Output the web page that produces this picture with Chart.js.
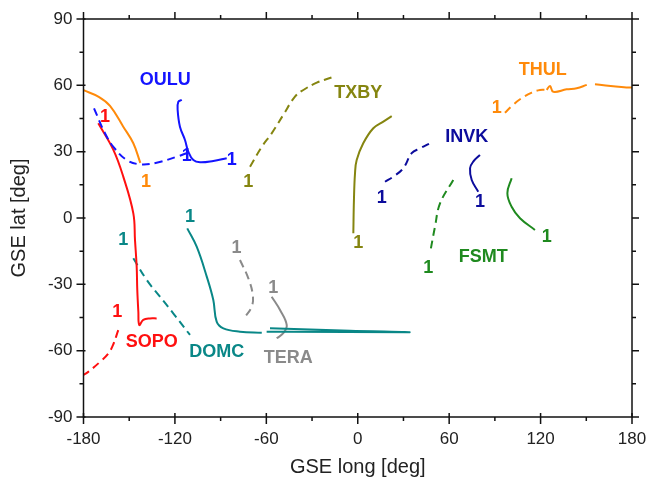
<!DOCTYPE html>
<html>
<head>
<meta charset="utf-8">
<script src="https://cdn.jsdelivr.net/npm/chart.js@4"></script>
<style>
  html, body { margin: 0; padding: 0; background: #fff; }
</style>
</head>
<body>
<canvas id="chart" width="646" height="479"></canvas>
<script>
// Station tracks in GSE coordinates (lon, lat), solid and dashed parts
const thulDashLon = [96.6, 101.2, 106.5, 114.2, 119.6, 124.0];
const thulDashLat = [47.6, 50.7, 53.7, 56.7, 57.9, 57.9];
const thulSolidLon = [124.0, 126.2, 128.3, 137.1, 143.7, 150.3, null, 155.7, 174.8, 180, null, -180, -170.0, -162.6, -153.9, -147.3, -142.7];
const thulSolidLat = [57.9, 59.7, 57.1, 58.2, 58.7, 60.2, null, 60.5, 59.1, 59.0, null, 57.8, 54.8, 50.7, 41.3, 33.8, 24.9];

const ouluDashLon = [-173.1, -165.9, -160.4, -151.6, -142.9, -132.0, -118.8, -112.3];
const ouluDashLat = [49.6, 38.3, 32.2, 26.2, 24.3, 25.0, 27.7, 29.3];
const ouluSolidLon = [-115.5, -117.8, -118.2, -116.7, -113.4, -111.2, -107.9, -103.5, -94.8, -86.0];
const ouluSolidLat = [53.4, 52.5, 48.8, 41.3, 35.3, 30.0, 26.2, 25.2, 25.8, 27.0];

const sopoSolidLon = [-170.3, -160.4, -153.9, -147.3, -146.2, -145.1, -144.7, -144.0, -143.4, -140.8, -136.4, -132.0];
const sopoSolidLat = [42.8, 30.8, 18.7, 2.1, -10.0, -22.0, -32.6, -42.4, -48.4, -46.1, -45.4, -45.4];
const sopoDashLon = [-157.2, -160.6, -163.9, -169.2, -176.9, -180];
const sopoDashLat = [-50.7, -57.4, -61.5, -65.1, -69.6, -71.0];

const domcSolidLon = [-111.9, -105.7, -99.1, -94.8, -92.6, -88.2, -77.3, -63.0, null, -59.8, 33.2, -5.1, -57.6];
const domcSolidLat = [-4.7, -13.0, -26.5, -37.1, -46.9, -49.9, -51.4, -51.9, null, -51.4, -51.7, -51.0, -49.9];
const domcDashLon = [-147.3, -138.5, -129.8, -121.1, -110.1];
const domcDashLat = [-18.2, -28.0, -35.6, -43.1, -52.9];

const teraDashLon = [-77.3, -71.8, -68.9, -69.6, -75.1];
const teraDashLat = [-19.0, -27.3, -34.8, -40.1, -45.8];
const teraSolidLon = [-56.5, -51.0, -46.6, -48.9, -53.2];
const teraSolidLat = [-35.6, -41.6, -48.4, -52.1, -54.4];

const txbyDashLon = [-70.7, -63.0, -56.5, -48.9, -41.2, -35.7, -26.9, -17.1];
const txbyDashLat = [23.2, 32.2, 38.3, 46.6, 54.9, 57.9, 61.2, 63.6];
const txbySolidLon = [-2.9, -2.5, -1.8, -0.7, 3.6, 10.2, 16.8, 22.3];
const txbySolidLat = [-6.9, 8.1, 20.2, 26.2, 33.8, 40.6, 43.6, 46.1];

const invkDashLon = [17.9, 23.3, 29.9, 35.4, 40.9, 47.4];
const invkDashLat = [16.4, 18.7, 22.5, 29.3, 31.5, 33.8];
const invkSolidLon = [80.2, 75.8, 73.7, 74.8, 79.1];
const invkSolidLat = [28.5, 25.5, 22.5, 17.2, 11.9];

const fsmtDashLon = [62.7, 54.0, 50.7, 47.4];
const fsmtDashLat = [17.2, 6.6, -3.9, -16.0];
const fsmtSolidLon = [101.0, 98.2, 101.0, 106.5, 116.3];
const fsmtSolidLat = [18.0, 11.2, 5.1, -0.1, -5.4];

// Station name labels
const stationNames = ["OULU", "THUL", "TXBY", "INVK", "FSMT", "SOPO", "DOMC", "TERA"];
const stationLabelLon = [-126.3, 121.4, 0.4, 71.5, 82.4, -135.2, -92.6, -45.6];
const stationLabelLat = [62.4, 66.9, 56.4, 36.8, -17.5, -55.9, -60.5, -63.5];

// "1" markers
const markStation = ["OULU", "OULU", "SOPO", "SOPO", "THUL", "THUL", "TXBY", "TXBY",
  "DOMC", "DOMC", "TERA", "TERA", "INVK", "INVK", "FSMT", "FSMT"];
const markLon = [-112.3, -82.7, -165.9, -157.8, -139.0, 91.2, -71.8, 0.4,
  -153.9, -110.1, -79.5, -55.4, 15.7, 80.2, 46.3, 124.0];
const markLat = [28.0, 26.2, 45.8, -42.4, 16.4, 49.6, 16.4, -11.4,
  -10.0, 0.5, -13.7, -31.8, 8.9, 7.4, -22.8, -8.5];

const colors = {
  OULU: "#1414ff",
  THUL: "#ff8a0a",
  SOPO: "#ff1010",
  DOMC: "#098787",
  TERA: "#8a8a8a",
  TXBY: "#858510",
  INVK: "#0c0c9c",
  FSMT: "#1f8a1f",
};

function toPoints(lons, lats) {
  return lons.map((x, i) => ({ x: x, y: lats[i] }));
}

function trackSet(name, lons, lats, dashed) {
  return {
    label: name + (dashed ? " dashed" : " solid"),
    data: toPoints(lons, lats),
    borderColor: colors[name],
    borderWidth: 2,
    borderDash: dashed ? [8, 5] : [],
    showLine: true,
    pointRadius: 0,
    tension: 0.4,
    spanGaps: false,
  };
}

const datasets = [
  trackSet("THUL", thulDashLon, thulDashLat, true),
  trackSet("THUL", thulSolidLon, thulSolidLat, false),
  trackSet("OULU", ouluDashLon, ouluDashLat, true),
  trackSet("OULU", ouluSolidLon, ouluSolidLat, false),
  trackSet("SOPO", sopoSolidLon, sopoSolidLat, false),
  trackSet("SOPO", sopoDashLon, sopoDashLat, true),
  trackSet("DOMC", domcSolidLon, domcSolidLat, false),
  trackSet("DOMC", domcDashLon, domcDashLat, true),
  trackSet("TERA", teraDashLon, teraDashLat, true),
  trackSet("TERA", teraSolidLon, teraSolidLat, false),
  trackSet("TXBY", txbyDashLon, txbyDashLat, true),
  trackSet("TXBY", txbySolidLon, txbySolidLat, false),
  trackSet("INVK", invkDashLon, invkDashLat, true),
  trackSet("INVK", invkSolidLon, invkSolidLat, false),
  trackSet("FSMT", fsmtDashLon, fsmtDashLat, true),
  trackSet("FSMT", fsmtSolidLon, fsmtSolidLat, false),
];

// Frame with ticks on all four sides
const framePlugin = {
  id: "frame",
  afterDraw(chart) {
    const ctx = chart.ctx;
    const a = chart.chartArea;
    const xs = chart.scales.x;
    const ys = chart.scales.y;
    ctx.save();
    ctx.strokeStyle = "#111";
    ctx.lineWidth = 1.5;
    ctx.strokeRect(a.left, a.top, a.right - a.left, a.bottom - a.top);
    ctx.beginPath();
    for (let v = -180; v <= 180; v += 30) {
      const px = xs.getPixelForValue(v);
      const major = v % 60 === 0;
      ctx.moveTo(px, a.bottom - (major ? 4 : 0));
      ctx.lineTo(px, a.bottom + (major ? 7 : 4));
      ctx.moveTo(px, a.top);
      ctx.lineTo(px, a.top - (major ? 7 : 4));
    }
    for (let v = -90; v <= 90; v += 15) {
      const py = ys.getPixelForValue(v);
      const major = v % 30 === 0;
      ctx.moveTo(a.left + (major ? 2 : 0), py);
      ctx.lineTo(a.left - (major ? 7 : 4), py);
      ctx.moveTo(a.right, py);
      ctx.lineTo(a.right + (major ? 7 : 4), py);
    }
    ctx.stroke();
    ctx.restore();
  },
};

// Station names and "1" markers
const labelPlugin = {
  id: "labels",
  afterDatasetsDraw(chart) {
    const ctx = chart.ctx;
    const xs = chart.scales.x;
    const ys = chart.scales.y;
    ctx.save();
    ctx.textAlign = "center";
    ctx.textBaseline = "middle";
    ctx.font = "bold 18px 'Liberation Sans', Arial, sans-serif";
    stationNames.forEach((name, i) => {
      ctx.fillStyle = colors[name];
      ctx.fillText(name, xs.getPixelForValue(stationLabelLon[i]), ys.getPixelForValue(stationLabelLat[i]));
    });
    markStation.forEach((name, i) => {
      ctx.fillStyle = colors[name];
      ctx.fillText("1", xs.getPixelForValue(markLon[i]), ys.getPixelForValue(markLat[i]));
    });
    ctx.restore();
  },
};

const tickFont = { family: "'Liberation Sans', Arial, sans-serif", size: 17 };
const titleFont = { family: "'Liberation Sans', Arial, sans-serif", size: 20 };

new Chart(document.getElementById("chart"), {
  type: "scatter",
  data: { datasets: datasets },
  options: {
    responsive: false,
    animation: false,
    layout: { padding: { top: 19, right: 14, left: 0, bottom: 0 } },
    plugins: { legend: { display: false }, tooltip: { enabled: false } },
    scales: {
      x: {
        type: "linear",
        min: -180,
        max: 180,
        grid: { display: false, drawTicks: false },
        border: { display: false },
        ticks: { stepSize: 60, padding: 12, color: "#222", font: tickFont, maxRotation: 0 },
        title: { display: true, text: "GSE long [deg]", color: "#222", font: titleFont, padding: { top: 0, bottom: 0 } },
        afterFit(scale) {
          scale.height = 62;
          scale.paddingLeft = 0;
          scale.paddingRight = 0;
        },
      },
      y: {
        type: "linear",
        min: -90,
        max: 90,
        grid: { display: false, drawTicks: false },
        border: { display: false },
        ticks: { stepSize: 30, padding: 11, color: "#222", font: tickFont },
        title: { display: true, text: "GSE lat [deg]", color: "#222", font: titleFont, padding: { top: 7, bottom: 0 } },
        afterFit(scale) {
          scale.width = 83.5;
          scale.paddingTop = 0;
          scale.paddingBottom = 0;
        },
      },
    },
  },
  plugins: [framePlugin, labelPlugin],
});
</script>
</body>
</html>
